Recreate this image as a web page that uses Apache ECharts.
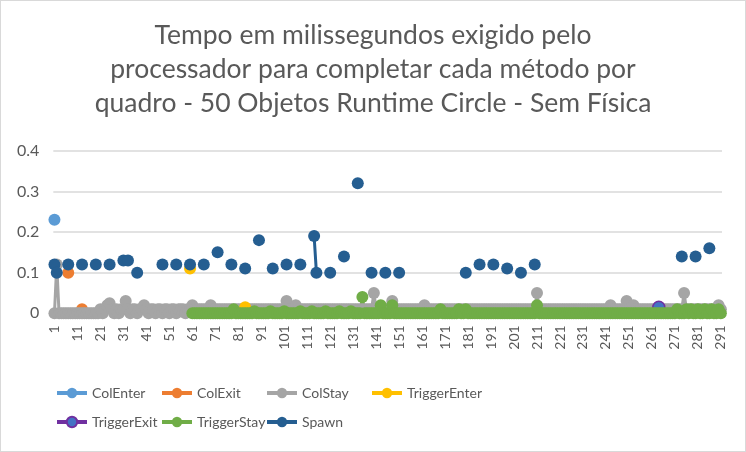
<!DOCTYPE html>
<html>
<head>
<meta charset="utf-8">
<script src="https://cdn.jsdelivr.net/npm/echarts@6/dist/echarts.min.js"></script>
<style>
  html, body { margin: 0; padding: 0; background: #fff; }
  #chart { width: 746px; height: 452px; box-sizing: border-box; border: 1px solid #d9d9d9; }
</style>
</head>
<body>
<div id="chart"></div>
<script>
// ---- DATA ----
const frameCount = 291;
const frames = [];
for (let i = 1; i <= frameCount; i++) frames.push(String(i));

const yTicks = [0, 0.1, 0.2, 0.3, 0.4];

const seriesNames = ['ColEnter', 'ColExit', 'ColStay', 'TriggerEnter', 'TriggerExit', 'TriggerStay', 'Spawn'];

// sparse series: [frame, value]
const colEnterPoints = [[1, 0.23]];
const colExitPoints = [[7, 0.10], [13, 0.01]];
const triggerEnterPoints = [[60, 0.11], [84, 0.015]];
const triggerExitPoints = [[264, 0.015]];
const spawnPoints = [
  [1, 0.12], [2, 0.10], [7, 0.12], [13, 0.12], [19, 0.12], [25, 0.12], [31, 0.13], [33, 0.13],
  [37, 0.10], [48, 0.12], [54, 0.12], [60, 0.12], [66, 0.12], [72, 0.15], [78, 0.12], [84, 0.11],
  [90, 0.18], [96, 0.11], [102, 0.12], [108, 0.12], [114, 0.19], [115, 0.10], [121, 0.10],
  [127, 0.14], [133, 0.32], [139, 0.10], [145, 0.10], [151, 0.10], [180, 0.10], [186, 0.12],
  [192, 0.12], [198, 0.11], [204, 0.10], [210, 0.12], [274, 0.14], [280, 0.14], [286, 0.16]
];

// dense series, one value per frame (1..291)
const colStayValues = [
  0, 0.12, 0, 0, 0, 0, 0, 0, 0, 0,
  0, 0, 0, 0, 0, 0, 0, 0, 0, 0,
  0.01, 0, 0.01, 0.02, 0.025, 0.01, 0, 0.01, 0, 0.01,
  0.01, 0.03, 0.01, 0, 0.01, 0.01, 0, 0.01, 0.01, 0.02,
  0.01, 0, 0.01, 0.01, 0, 0.01, 0.01, 0, 0.01, 0.01,
  0, 0.01, 0.01, 0, 0.01, 0.01, 0.01, 0, 0.01, 0.01,
  0.02, 0.01, 0.01, 0.01, 0.01, 0.01, 0.01, 0.01, 0.02, 0.01,
  0.01, 0.01, 0.01, 0.01, 0.01, 0.01, 0.01, 0.01, 0.01, 0.01,
  0.01, 0.01, 0.01, 0.01, 0.01, 0.01, 0.01, 0.01, 0.01, 0.01,
  0.01, 0.01, 0.01, 0.01, 0.01, 0.01, 0.01, 0.01, 0.01, 0.01,
  0.01, 0.03, 0.01, 0.01, 0.01, 0.02, 0.01, 0.01, 0.01, 0.01,
  0.01, 0.01, 0.01, 0.01, 0.01, 0.01, 0.01, 0.01, 0.01, 0.01,
  0.01, 0.01, 0.01, 0.01, 0.01, 0.01, 0.01, 0.01, 0.01, 0.01,
  0.01, 0.01, 0.01, 0.01, 0.01, 0.01, 0.01, 0.01, 0.01, 0.05,
  0.01, 0.01, 0.01, 0.01, 0.01, 0.01, 0.01, 0.03, 0.01, 0.01,
  0.01, 0.01, 0.01, 0.01, 0.01, 0.01, 0.01, 0.01, 0.01, 0.01,
  0.01, 0.02, 0.01, 0.01, 0.01, 0.01, 0.01, 0.01, 0.01, 0.01,
  0.01, 0.01, 0.01, 0.01, 0.01, 0.01, 0.01, 0.01, 0.01, 0.01,
  0.01, 0.01, 0.01, 0.01, 0.01, 0.01, 0.01, 0.01, 0.01, 0.01,
  0.01, 0.01, 0.01, 0.01, 0.01, 0.01, 0.01, 0.01, 0.01, 0.01,
  0.01, 0.01, 0.01, 0.01, 0.01, 0.01, 0.01, 0.01, 0.01, 0.01,
  0.05, 0.01, 0.01, 0.01, 0.01, 0.01, 0.01, 0.01, 0.01, 0.01,
  0.01, 0.01, 0.01, 0.01, 0.01, 0.01, 0.01, 0.01, 0.01, 0.01,
  0.01, 0.01, 0.01, 0.01, 0.01, 0.01, 0.01, 0.01, 0.01, 0.01,
  0.01, 0.01, 0.02, 0.01, 0.01, 0.01, 0.01, 0.01, 0.01, 0.03,
  0.01, 0.01, 0.02, 0.01, 0.01, 0.01, 0.01, 0.01, 0.01, 0.01,
  0.01, 0.01, 0.01, 0.01, 0.01, 0.01, 0.01, 0.01, 0.01, 0.01,
  0.01, 0.01, 0.01, 0.01, 0.05, 0.01, 0.01, 0.01, 0.01, 0.01,
  0.01, 0.01, 0.01, 0.01, 0.01, 0.01, 0.01, 0.01, 0.01, 0.02,
  0.01
];

const triggerStayValues = [
  null, null, null, null, null, null, null, null, null, null,
  null, null, null, null, null, null, null, null, null, null,
  null, null, null, null, null, null, null, null, null, null,
  null, null, null, null, null, null, null, null, null, null,
  null, null, null, null, null, null, null, null, null, null,
  null, null, null, null, null, null, null, null, null, null,
  0, 0, 0, 0, 0, 0, 0, 0, 0, 0,
  0, 0, 0, 0, 0, 0, 0, 0, 0.01, 0,
  0, 0, 0, 0, 0, 0, 0, 0.005, 0, 0,
  0, 0, 0, 0, 0.005, 0, 0, 0, 0, 0,
  0.005, 0, 0, 0, 0, 0, 0, 0.005, 0, 0,
  0, 0, 0.005, 0, 0, 0, 0, 0, 0.005, 0,
  0, 0, 0, 0, 0.005, 0, 0, 0, 0, 0.005,
  0, 0, 0, 0, 0.04, 0, 0, 0, 0, 0,
  0, 0, 0.02, 0, 0, 0, 0, 0.02, 0, 0,
  0, 0, 0, 0, 0, 0, 0, 0, 0, 0,
  0, 0, 0, 0, 0, 0, 0, 0, 0.01, 0,
  0, 0, 0, 0, 0, 0, 0.01, 0, 0, 0.01,
  0, 0, 0, 0, 0, 0, 0, 0, 0, 0,
  0, 0, 0, 0, 0, 0, 0, 0, 0, 0,
  0, 0, 0, 0, 0, 0, 0, 0, 0, 0,
  0.02, 0, 0, 0, 0, 0, 0, 0, 0, 0,
  0, 0, 0, 0, 0, 0, 0, 0, 0, 0,
  0, 0, 0, 0, 0, 0, 0, 0, 0, 0,
  0, 0, 0, 0, 0, 0, 0, 0, 0, 0,
  0, 0, 0, 0, 0, 0, 0, 0, 0, 0,
  0, 0, 0, 0, 0, 0, 0, 0, 0, 0,
  0, 0.01, 0, 0, 0, 0.01, 0, 0.01, 0, 0,
  0.01, 0, 0, 0.01, 0, 0, 0.01, 0, 0, 0.01,
  0
];

// ---- BUILD ----
function fromPoints(points) {
  const arr = new Array(frameCount).fill(null);
  points.forEach(([f, v]) => { arr[f - 1] = v; });
  return arr;
}

const colors = {
  ColEnter: '#5B9BD5', ColExit: '#ED7D31', ColStay: '#A5A5A5', TriggerEnter: '#FFC000',
  TriggerExit: '#4472C4', TriggerStay: '#70AD47', Spawn: '#255E91'
};
const lineColors = Object.assign({}, colors, { TriggerExit: '#7030A0' });

const dataByName = {
  ColEnter: fromPoints(colEnterPoints),
  ColExit: fromPoints(colExitPoints),
  ColStay: colStayValues,
  TriggerEnter: fromPoints(triggerEnterPoints),
  TriggerExit: fromPoints(triggerExitPoints),
  TriggerStay: triggerStayValues,
  Spawn: fromPoints(spawnPoints)
};

const FONT = 'Lato';
const TXT = '#595959';

const series = seriesNames.map(name => ({
  name: name,
  type: 'line',
  data: dataByName[name],
  symbol: 'circle',
  symbolSize: 12,
  showSymbol: true,
  showAllSymbol: true,
  connectNulls: false,
  animation: false,
  lineStyle: { color: lineColors[name], width: 3 },
  itemStyle: {
    color: colors[name],
    borderColor: lineColors[name],
    borderWidth: name === 'TriggerExit' ? 1.5 : 0
  },
  emphasis: { disabled: true }
}));

const legendPos = {
  ColEnter: [55, 392], ColExit: [160, 392], ColStay: [265, 392], TriggerEnter: [370, 392],
  TriggerExit: [55, 421], TriggerStay: [160, 421], Spawn: [265, 421]
};
const legends = seriesNames.map(name => ({
  data: [name],
  left: legendPos[name][0] - 1,
  top: legendPos[name][1] - 1 - 6,
  padding: 0,
  itemWidth: 30,
  itemHeight: 13,
  itemGap: 0,
  selectedMode: false,
  lineStyle: { width: 4 },
  textStyle: { fontFamily: FONT, fontSize: 14, color: TXT, padding: [0, 0, 0, 0] }
}));

const chart = echarts.init(document.getElementById('chart'), null, { renderer: 'canvas' });
chart.setOption({
  animation: false,
  backgroundColor: '#ffffff',
  title: {
    text: 'Tempo em milissegundos exigido pelo\nprocessador para completar cada método por\nquadro - 50 Objetos Runtime Circle - Sem Física',
    left: 'center',
    top: 12,
    textStyle: { fontFamily: FONT, fontSize: 26.5, fontWeight: 'normal', color: TXT, lineHeight: 34, align: 'center' }
  },
  legend: legends,
  grid: { left: 52.3, right: 23, top: 149.7, bottom: 137.7, containLabel: false },
  xAxis: {
    type: 'category',
    data: frames,
    boundaryGap: true,
    axisLine: { lineStyle: { color: '#d9d9d9', width: 1.5 } },
    axisTick: { show: false },
    axisLabel: { interval: 9, rotate: 90, fontFamily: FONT, fontSize: 14, color: TXT, margin: 12 },
    splitLine: { show: false }
  },
  yAxis: {
    type: 'value',
    min: yTicks[0],
    max: yTicks[yTicks.length - 1],
    interval: 0.1,
    axisLine: { show: false },
    axisTick: { show: false },
    axisLabel: { fontFamily: FONT, fontSize: 16, color: TXT, margin: 14 },
    splitLine: { lineStyle: { color: '#d9d9d9', width: 1.5 } }
  },
  series: series
});
</script>
</body>
</html>
